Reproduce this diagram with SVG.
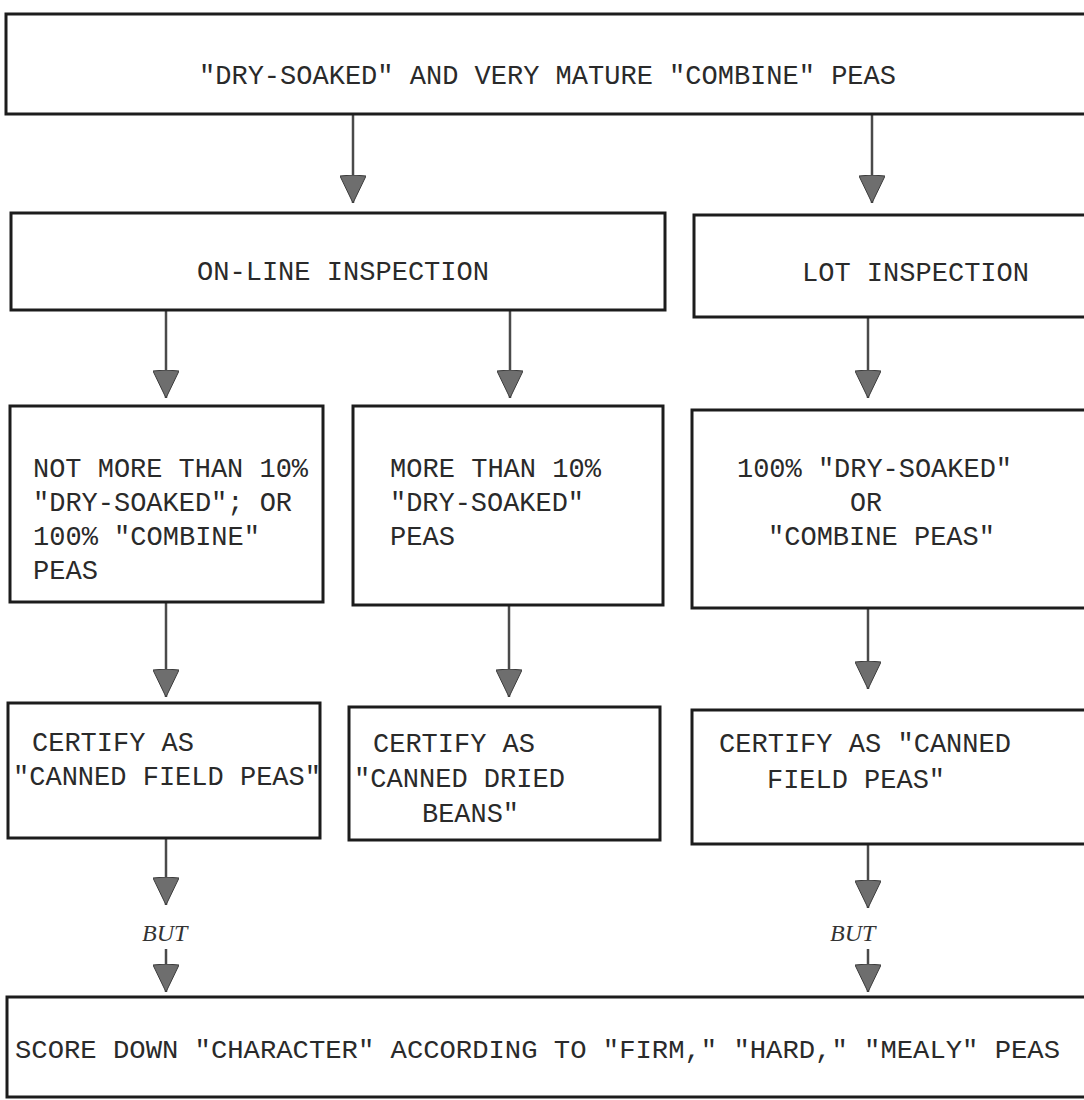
<svg xmlns="http://www.w3.org/2000/svg" width="1084" height="1100" viewBox="0 0 1084 1100">
<defs>
<style>
.box{fill:#fff;stroke:#1c1c1c;stroke-width:3}
.t{font-family:"Liberation Mono","DejaVu Sans Mono",monospace;font-size:28px;fill:#2a2a2a}
.s{font-size:26px}
.but{font-family:"Liberation Serif",serif;font-style:italic;font-size:24px;fill:#333}
.conn{stroke:#4a4a4a;stroke-width:2.5;fill:none;marker-end:url(#head)}
</style>
<marker id="head" viewBox="0 0 28 26" markerWidth="28" markerHeight="26" refX="28" refY="13" orient="auto" markerUnits="userSpaceOnUse">
<path d="M1,0 Q-1,13 1,26 L28,13 Z" fill="#6e6e6e" stroke="#3c3c3c" stroke-width="1"/>
</marker>
</defs>
<rect width="1084" height="1100" fill="#fff"/>

<g id="connectors">
<line class="conn" x1="353" y1="115" x2="353" y2="203"/>
<line class="conn" x1="872" y1="115" x2="872" y2="203"/>
<line class="conn" x1="166" y1="311" x2="166" y2="398"/>
<line class="conn" x1="510" y1="311" x2="510" y2="398"/>
<line class="conn" x1="868" y1="318" x2="868" y2="398"/>
<line class="conn" x1="166" y1="603" x2="166" y2="697"/>
<line class="conn" x1="509" y1="606" x2="509" y2="697"/>
<line class="conn" x1="868" y1="609" x2="868" y2="689"/>
<line class="conn" x1="166" y1="839" x2="166" y2="905"/>
<line class="conn" x1="868" y1="845" x2="868" y2="908"/>
<line class="conn" x1="166" y1="949" x2="166" y2="992"/>
<line class="conn" x1="868" y1="949" x2="868" y2="992"/>
</g>

<g id="but-left"><text class="but" x="142" y="941">BUT</text></g>
<g id="but-right"><text class="but" x="830" y="941">BUT</text></g>

<g id="node-top">
<path class="box" d="M1084,14 H6 V114 H1084"/>
<text class="t" x="199" y="84" textLength="697" lengthAdjust="spacingAndGlyphs">"DRY-SOAKED" AND VERY MATURE "COMBINE" PEAS</text>
</g>

<g id="node-online">
<rect class="box" x="11" y="213" width="654" height="97"/>
<text class="t" x="197" y="280" textLength="292" lengthAdjust="spacingAndGlyphs">ON-LINE INSPECTION</text>
</g>

<g id="node-lot">
<path class="box" d="M1084,215 H694 V317 H1084"/>
<text class="t" x="802" y="281" textLength="227" lengthAdjust="spacingAndGlyphs">LOT INSPECTION</text>
</g>

<g id="node-not-more">
<rect class="box" x="10" y="406" width="313" height="196"/>
<text class="t" x="33" y="477" textLength="275" lengthAdjust="spacingAndGlyphs">NOT MORE THAN 10%</text>
<text class="t" x="33" y="511" textLength="259" lengthAdjust="spacingAndGlyphs">"DRY-SOAKED"; OR</text>
<text class="t" x="33" y="545" textLength="227" lengthAdjust="spacingAndGlyphs">100% "COMBINE"</text>
<text class="t" x="33" y="579" textLength="65" lengthAdjust="spacingAndGlyphs">PEAS</text>
</g>

<g id="node-more">
<rect class="box" x="353" y="406" width="310" height="199"/>
<text class="t" x="390" y="477" textLength="211" lengthAdjust="spacingAndGlyphs">MORE THAN 10%</text>
<text class="t" x="390" y="511" textLength="194" lengthAdjust="spacingAndGlyphs">"DRY-SOAKED"</text>
<text class="t" x="390" y="545" textLength="65" lengthAdjust="spacingAndGlyphs">PEAS</text>
</g>

<g id="node-hundred">
<path class="box" d="M1084,410 H692 V608 H1084"/>
<text class="t" x="737" y="477" textLength="275" lengthAdjust="spacingAndGlyphs">100% "DRY-SOAKED"</text>
<text class="t" x="850" y="511" textLength="32" lengthAdjust="spacingAndGlyphs">OR</text>
<text class="t" x="768" y="545" textLength="227" lengthAdjust="spacingAndGlyphs">"COMBINE PEAS"</text>
</g>

<g id="node-cert-field-a">
<rect class="box" x="8" y="703" width="312" height="135"/>
<text class="t" x="32" y="751" textLength="162" lengthAdjust="spacingAndGlyphs">CERTIFY AS</text>
<text class="t" x="13" y="785" textLength="308" lengthAdjust="spacingAndGlyphs">"CANNED FIELD PEAS"</text>
</g>

<g id="node-cert-beans">
<rect class="box" x="349" y="707" width="311" height="133"/>
<text class="t" x="373" y="752" textLength="162" lengthAdjust="spacingAndGlyphs">CERTIFY AS</text>
<text class="t" x="354" y="787" textLength="211" lengthAdjust="spacingAndGlyphs">"CANNED DRIED</text>
<text class="t" x="422" y="822" textLength="97" lengthAdjust="spacingAndGlyphs">BEANS"</text>
</g>

<g id="node-cert-field-b">
<path class="box" d="M1084,710 H692 V844 H1084"/>
<text class="t" x="719" y="752" textLength="292" lengthAdjust="spacingAndGlyphs">CERTIFY AS "CANNED</text>
<text class="t" x="767" y="788" textLength="178" lengthAdjust="spacingAndGlyphs">FIELD PEAS"</text>
</g>

<g id="node-score">
<path class="box" d="M1084,997 H7 V1097 H1084"/>
<text class="t s" x="15" y="1058" textLength="1045" lengthAdjust="spacingAndGlyphs">SCORE DOWN "CHARACTER" ACCORDING TO "FIRM," "HARD," "MEALY" PEAS</text>
</g>
</svg>
